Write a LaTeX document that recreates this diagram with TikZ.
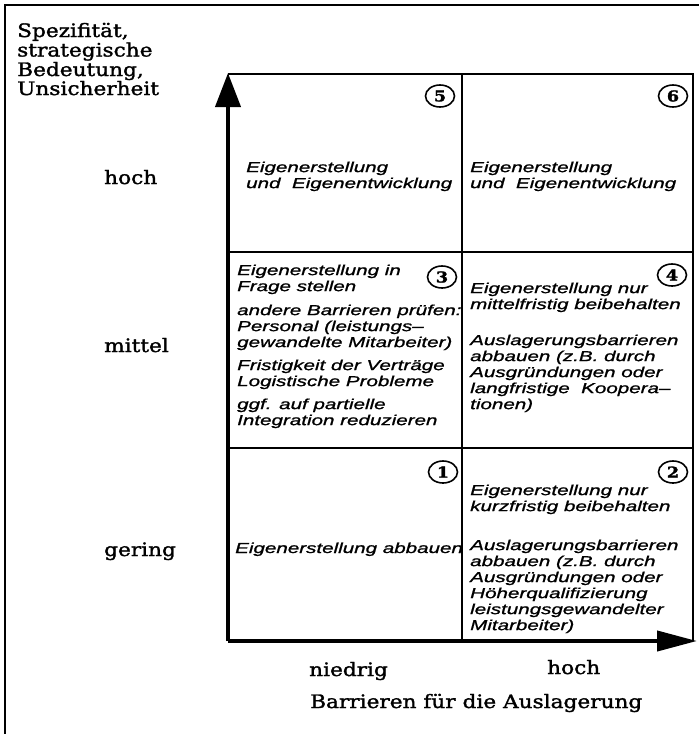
\documentclass[tikz,border=0pt]{standalone}
\usepackage{fontspec}
\setmainfont{DejaVu Serif}[FakeStretch=1.17, FakeBold=1.6]
\newfontfamily\cellfont{Liberation Sans}[FakeStretch=1.42, FakeBold=1.2]
\usetikzlibrary{arrows.meta, shapes.geometric}

\begin{document}
\begin{tikzpicture}[x=1pt, y=-1pt,
    cell/.style={font=\cellfont\itshape\fontsize{14.5}{16}\selectfont, align=left, inner sep=0pt, anchor=north west},
    lab/.style={font=\fontsize{18.5}{20}\selectfont, inner sep=0pt, anchor=base west},
    num/.style={draw, ellipse, line width=1.6pt, minimum width=29pt, minimum height=22pt, inner sep=0pt, font=\bfseries\fontsize{15}{15}\selectfont},
    gridline/.style={line width=1.6pt},
    axisline/.style={line width=4pt}]
    \useasboundingbox (0,0) rectangle (699,734);

    % Define corners of the matrix
    \coordinate (O) at (228,641);
    \coordinate (ytip) at (228,73);
    \coordinate (xtip) at (697,641);

    % Outer frame (top and left only)
    \draw[line width=1.5pt] (5,734) -- (5,5) -- (699,5);

    % Grid
    \draw[gridline] (228,74) -- (693,74) -- (693,641);
    \draw[gridline] (462,74) -- (462,641);
    \draw[gridline] (228,252) -- (693,252);
    \draw[gridline] (228,448) -- (693,448);

    % Axes
    \draw[axisline, -{Triangle[length=34pt, width=25pt]}] (O) -- (ytip);
    \draw[axisline, -{Triangle[length=40pt, width=20pt]}] (O) -- (xtip);

    % Axis titles and levels
    \node[lab] (ytitlea) at (17,37) {Spezifität,};
    \node[lab] (ytitleb) at (17,56.5) {strategische};
    \node[lab] (ytitlec) at (17,76) {Bedeutung,};
    \node[lab] (ytitled) at (17,95) {Unsicherheit};
    \node[lab] (yhigh) at (104,184) {hoch};
    \node[lab] (ymid) at (104,352) {mittel};
    \node[lab] (ylow) at (104,556) {gering};
    \node[lab] (xlow) at (309,676) {niedrig};
    \node[lab] (xhigh) at (547,674) {hoch};
    \node[lab] (xtitle) at (310,708) {Barrieren für die Auslagerung};

    % Field numbers
    \node[num] (n5) at (440,96) {5};
    \node[num] (n6) at (673,96) {6};
    \node[num] (n3) at (442,277) {3};
    \node[num] (n4) at (672,275) {4};
    \node[num] (n1) at (443,472) {1};
    \node[num] (n2) at (673,472) {2};

    % Field texts
    \node[cell] (c5) at (246,161.4) {Eigenerstellung\\und~ Eigenentwicklung};
    \node[cell] (c6) at (470,161.4) {Eigenerstellung\\und~ Eigenentwicklung};
    \node[cell] (c3) at (237,264.4) {Eigenerstellung in\\Frage stellen\\[8pt]andere Barrieren prüfen:\\Personal (leistungs–\\gewandelte Mitarbeiter)\\[7pt]Fristigkeit der Verträge\\Logistische Probleme\\[7pt]ggf. auf partielle\\Integration reduzieren};
    \node[cell] (c4) at (470,282.4) {Eigenerstellung nur\\mittelfristig beibehalten\\[20pt]Auslagerungsbarrieren\\abbauen (z.B. durch\\Ausgründungen oder\\langfristige~ Koopera–\\tionen)};
    \node[cell, anchor=base west] (c1) at (235,553) {Eigenerstellung abbauen};
    \node[cell] (c2) at (470,484.4) {Eigenerstellung nur\\kurzfristig beibehalten\\[23pt]Auslagerungsbarrieren\\abbauen (z.B. durch\\Ausgründungen oder\\Höherqualifizierung\\leistungsgewandelter\\Mitarbeiter)};

  \end{tikzpicture}
\end{document}
